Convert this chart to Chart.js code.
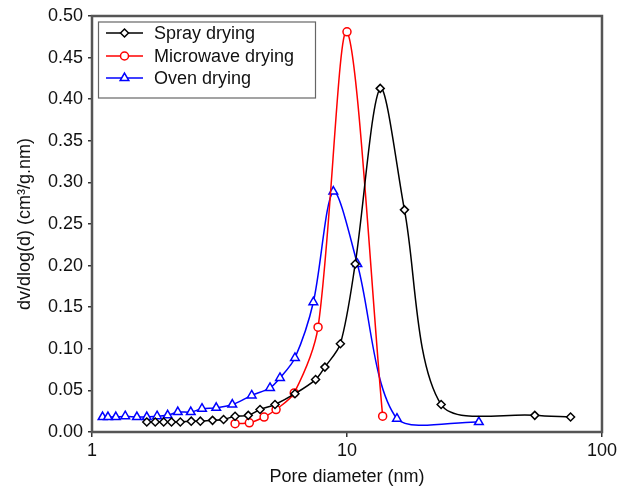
<!DOCTYPE html>
<html>
<head>
<meta charset="utf-8">
<script src="https://cdn.jsdelivr.net/npm/chart.js@4/dist/chart.umd.min.js"></script>
<style>
  html, body { margin: 0; padding: 0; background: #fff; }
  #wrap { width: 620px; height: 489px; }
</style>
</head>
<body>
<div id="wrap"><canvas id="poreChart"></canvas></div>
<script>
// ===== Data =====
const sprayX = [1.64, 1.77, 1.91, 2.05, 2.22, 2.45, 2.66, 2.97, 3.28, 3.64, 4.10, 4.56, 5.22, 6.25, 7.53, 8.19, 9.42, 10.77, 13.5, 16.8, 23.4, 54.5, 75.3];
const sprayY = [0.012, 0.012, 0.012, 0.012, 0.012, 0.013, 0.013, 0.014, 0.015, 0.019, 0.020, 0.027, 0.033, 0.046, 0.063, 0.078, 0.106, 0.202, 0.413, 0.267, 0.033, 0.020, 0.018];

const microX = [3.64, 4.14, 4.73, 5.27, 6.21, 7.70, 10.0, 13.8];
const microY = [0.010, 0.011, 0.018, 0.027, 0.047, 0.126, 0.481, 0.019];

const ovenX = [1.10, 1.155, 1.24, 1.35, 1.50, 1.64, 1.80, 1.98, 2.17, 2.44, 2.70, 3.07, 3.55, 4.23, 4.99, 5.46, 6.25, 7.38, 8.84, 10.98, 15.7, 32.9];
const ovenY = [0.018, 0.018, 0.018, 0.019, 0.018, 0.018, 0.019, 0.020, 0.024, 0.024, 0.028, 0.029, 0.033, 0.044, 0.053, 0.065, 0.089, 0.156, 0.289, 0.202, 0.016, 0.012];

const xTicks = [1, 10, 100];
const yTicks = [0, 0.05, 0.10, 0.15, 0.20, 0.25, 0.30, 0.35, 0.40, 0.45, 0.50];

const FONT = "'Liberation Sans', Arial, sans-serif";
const FRAME = '#555555';

function toPoints(xs, ys) {
  return xs.map((x, i) => ({ x: x, y: ys[i] }));
}

function makeSeries(label, xs, ys, color, style, radius) {
  return {
    label: label,
    data: toPoints(xs, ys),
    borderColor: color,
    borderWidth: 1.5,
    pointStyle: style,
    pointRadius: radius,
    pointBorderColor: color,
    pointBackgroundColor: '#ffffff',
    pointBorderWidth: 1.5,
    tension: 0.3,
    fill: false
  };
}

// ===== Plot frame + boxed legend =====
const framePlugin = {
  id: 'frame',
  afterDraw(chart) {
    const { ctx, chartArea: a } = chart;
    ctx.save();
    ctx.strokeStyle = FRAME;
    ctx.lineWidth = 2.5;
    ctx.strokeRect(a.left, a.top, a.right - a.left, a.bottom - a.top);

    // legend box
    const box = { x: 98.5, y: 22, w: 217, h: 76 };
    ctx.fillStyle = '#ffffff';
    ctx.fillRect(box.x, box.y, box.w, box.h);
    ctx.lineWidth = 1.2;
    ctx.strokeStyle = '#666666';
    ctx.strokeRect(box.x, box.y, box.w, box.h);

    const rows = [33, 56, 78];
    chart.data.datasets.forEach((ds, i) => {
      const y = rows[i];
      ctx.strokeStyle = ds.borderColor;
      ctx.lineWidth = 1.5;
      ctx.beginPath();
      ctx.moveTo(106, y);
      ctx.lineTo(143, y);
      ctx.stroke();
      ctx.fillStyle = '#ffffff';
      ctx.strokeStyle = ds.borderColor;
      Chart.helpers.drawPoint(ctx, {
        pointStyle: ds.pointStyle,
        radius: ds.pointRadius,
        borderWidth: 1.5,
        rotation: 0
      }, 124.5, y);
      ctx.fillStyle = '#111111';
      ctx.font = '18px ' + FONT;
      ctx.textBaseline = 'middle';
      ctx.textAlign = 'left';
      ctx.fillText(ds.label, 154, y + 1);
    });
    ctx.restore();
  }
};

// ===== Chart =====
const ctx = document.getElementById('poreChart');

new Chart(ctx, {
  type: 'line',
  data: {
    datasets: [
      makeSeries('Spray drying', sprayX, sprayY, '#000000', 'rectRot', 4),
      makeSeries('Microwave drying', microX, microY, '#ff0000', 'circle', 4),
      makeSeries('Oven drying', ovenX, ovenY, '#0000ff', 'triangle', 5)
    ]
  },
  options: {
    responsive: true,
    maintainAspectRatio: false,
    animation: false,
    layout: { padding: { top: 16, right: 15, left: 0, bottom: 0 } },
    plugins: {
      legend: { display: false },
      tooltip: { enabled: false }
    },
    scales: {
      x: {
        type: 'logarithmic',
        min: 1,
        max: 100,
        afterBuildTicks: scale => { scale.ticks = xTicks.map(v => ({ value: v })); },
        afterFit: scale => { scale.height = 57; },
        border: { display: false },
        grid: { drawOnChartArea: false, drawTicks: true, tickLength: 5, color: '#333333', lineWidth: 1.5 },
        ticks: {
          color: '#111111',
          font: { family: FONT, size: 18 },
          padding: 3,
          maxRotation: 0,
          callback: v => String(v)
        },
        title: {
          display: true,
          text: 'Pore diameter (nm)',
          color: '#111111',
          font: { family: FONT, size: 18 },
          padding: { top: 0, bottom: 1 }
        }
      },
      y: {
        type: 'linear',
        min: 0,
        max: 0.5,
        afterBuildTicks: scale => { scale.ticks = yTicks.map(v => ({ value: v })); },
        afterFit: scale => { scale.width = 92; },
        border: { display: false },
        grid: { drawOnChartArea: false, drawTicks: true, tickLength: 4, color: '#333333', lineWidth: 1.5 },
        ticks: {
          color: '#111111',
          font: { family: FONT, size: 18 },
          padding: 5,
          callback: v => v.toFixed(2)
        },
        title: {
          display: true,
          text: 'dv/dlog(d) (cm³/g.nm)',
          color: '#111111',
          font: { family: FONT, size: 18 },
          padding: { top: 14, bottom: 0 }
        }
      }
    }
  },
  plugins: [framePlugin]
});
</script>
</body>
</html>
